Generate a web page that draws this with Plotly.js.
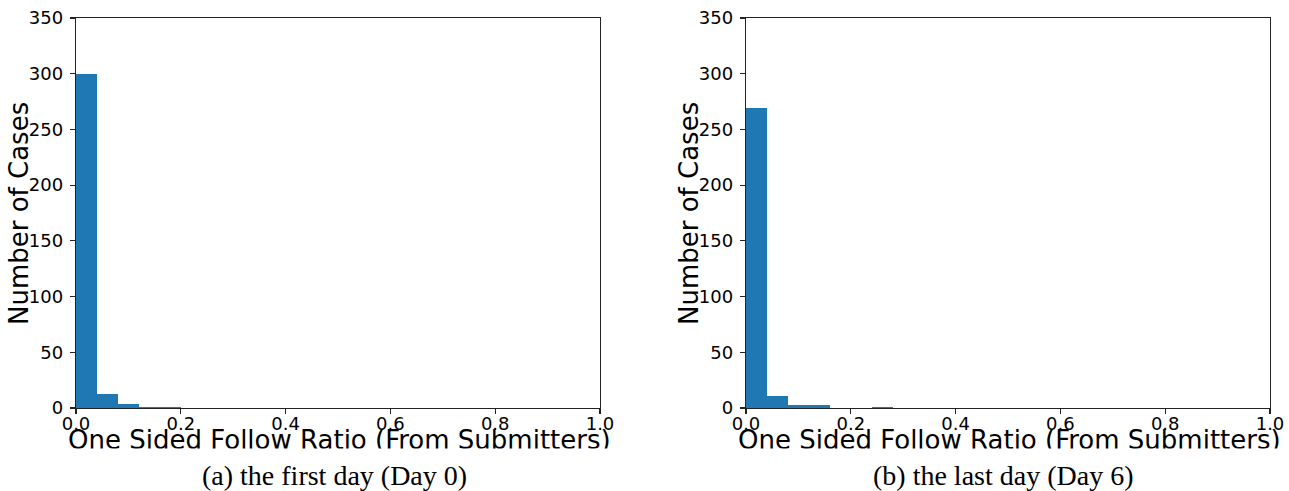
<!DOCTYPE html>
<html>
<head>
<meta charset="utf-8">
<script src="https://cdn.plot.ly/plotly-3.0.1.min.js"></script>
<style>
  html, body { margin: 0; padding: 0; background: #fff; }
  #chart { width: 1289px; height: 491px; }
</style>
</head>
<body>
<div id="chart"></div>
<script>
// Histogram bins (left edges) and bin width
const binStarts = [0.00, 0.04, 0.08, 0.12, 0.16, 0.20, 0.24];
const binWidth = 0.04;
// Counts per bin
const countsDay0 = [300, 13, 4, 1, 1, 0, 0];
const countsDay6 = [269, 11, 3, 3, 0, 0, 1];
// Text
const xTitle = "One Sided Follow Ratio (From Submitters)";
const yTitle = "Number of Cases";
const captionA = "(a) the first day (Day 0)";
const captionB = "(b) the last day (Day 6)";
const xTickVals = [0, 0.2, 0.4, 0.6, 0.8, 1.0];
const yTickVals = [0, 50, 100, 150, 200, 250, 300, 350];

const W = 1289, H = 491;
const px = v => v / W;          // x pixel -> paper
const py = v => (H - v) / H;    // y pixel (from top) -> paper

const barColor = '#1f77b4';
const traces = [
  { type: 'bar', x: binStarts, y: countsDay0, width: binWidth, offset: 0,
    marker: { color: barColor, line: { width: 0 } }, xaxis: 'x', yaxis: 'y', hoverinfo: 'x+y' },
  { type: 'bar', x: binStarts, y: countsDay6, width: binWidth, offset: 0,
    marker: { color: barColor, line: { width: 0 } }, xaxis: 'x2', yaxis: 'y2', hoverinfo: 'x+y' }
];

const tickFont = { family: 'DejaVu Sans', size: 18, color: '#000' };
function xAxis(domain, anchor) {
  return {
    domain: domain, anchor: anchor, range: [0, 1], tickvals: xTickVals, tickformat: '.1f',
    showgrid: false, zeroline: false, showline: true, mirror: true, linecolor: '#222', linewidth: 1.2,
    ticks: 'outside', ticklen: 5, tickwidth: 1.2, tickcolor: '#222', tickfont: tickFont,
    ticklabelstandoff: -6, fixedrange: true
  };
}
function yAxis(anchor) {
  return {
    domain: [py(408), py(18)], anchor: anchor, range: [0, 350], tickvals: yTickVals,
    showgrid: false, zeroline: false, showline: true, mirror: true, linecolor: '#222', linewidth: 1.2,
    ticks: 'outside', ticklen: 5, tickwidth: 1.2, tickcolor: '#222', tickfont: tickFont,
    ticklabelstandoff: 3, fixedrange: true
  };
}

const titleFont = { family: 'DejaVu Sans', size: 26, color: '#000' };
const capFont = { family: 'Liberation Serif', size: 28, color: '#000' };

const annotations = [
  { text: yTitle, xref: 'paper', yref: 'paper', x: px(19), y: py(214), textangle: -90,
    xanchor: 'center', yanchor: 'middle', showarrow: false, font: titleFont },
  { text: yTitle, xref: 'paper', yref: 'paper', x: px(689), y: py(214), textangle: -90,
    xanchor: 'center', yanchor: 'middle', showarrow: false, font: titleFont },
  { text: xTitle, xref: 'paper', yref: 'paper', x: px(339), y: py(440),
    xanchor: 'center', yanchor: 'middle', showarrow: false, font: titleFont },
  { text: xTitle, xref: 'paper', yref: 'paper', x: px(1009), y: py(440),
    xanchor: 'center', yanchor: 'middle', showarrow: false, font: titleFont },
  // white band that clips the bottom of the axis titles, as in the reference
  { text: ' ', xref: 'paper', yref: 'paper', x: 0.5, y: 0, xanchor: 'center', yanchor: 'bottom',
    width: W, height: 41, borderpad: 0, bgcolor: '#fff', showarrow: false, font: { size: 10 } },
  { text: captionA, xref: 'paper', yref: 'paper', x: px(334), y: py(475),
    xanchor: 'center', yanchor: 'middle', showarrow: false, font: capFont },
  { text: captionB, xref: 'paper', yref: 'paper', x: px(1003), y: py(475),
    xanchor: 'center', yanchor: 'middle', showarrow: false, font: capFont }
];

const layout = {
  width: W, height: H,
  margin: { l: 0, r: 0, t: 0, b: 0 },
  paper_bgcolor: '#fff', plot_bgcolor: '#fff',
  showlegend: false, bargap: 0,
  xaxis: xAxis([px(76), px(600)], 'y'),
  yaxis: yAxis('x'),
  xaxis2: xAxis([px(746), px(1270)], 'y2'),
  yaxis2: yAxis('x2'),
  annotations: annotations
};

Plotly.newPlot('chart', traces, layout, { displayModeBar: false, staticPlot: true });
</script>
</body>
</html>
